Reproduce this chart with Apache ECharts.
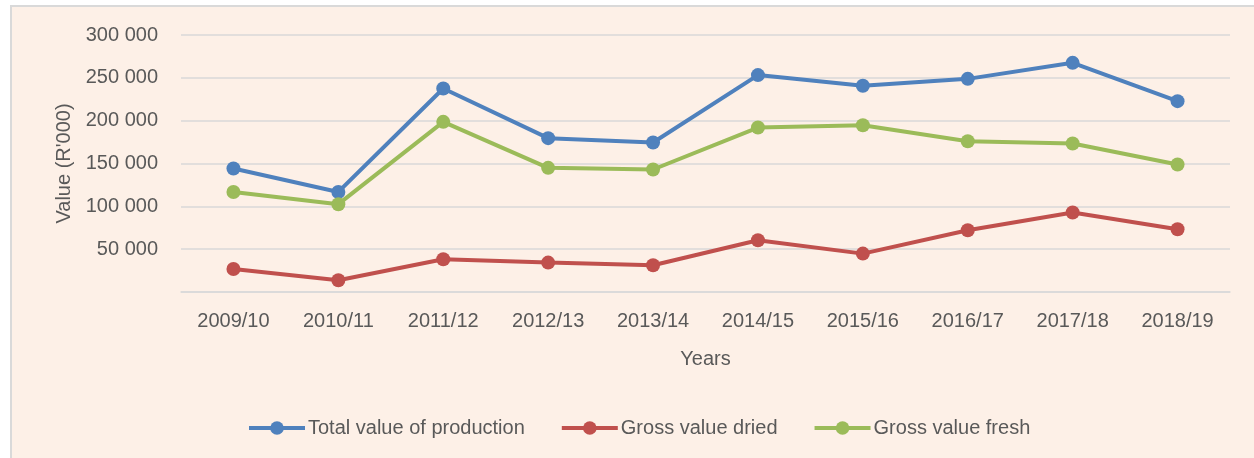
<!DOCTYPE html>
<html>
<head>
<meta charset="utf-8">
<script src="https://cdn.jsdelivr.net/npm/echarts@6/dist/echarts.min.js"></script>
<style>
  html, body { margin: 0; padding: 0; background: #fff; }
  #main { width: 1254px; height: 458px; }
</style>
</head>
<body>
<div id="main"></div>
<script>
var years = ['2009/10', '2010/11', '2011/12', '2012/13', '2013/14', '2014/15', '2015/16', '2016/17', '2017/18', '2018/19']
var totalValue = [144200, 116800, 237600, 179600, 174500, 253200, 240700, 248800, 267500, 222800]
var grossDried = [26900, 13700, 38200, 34300, 31200, 60400, 44800, 72100, 92800, 73200]
var grossFresh = [116800, 102500, 198600, 144900, 143000, 192000, 194700, 176000, 173400, 148800]
var yTicks = [0, 50000, 100000, 150000, 200000, 250000, 300000]

var font = '"Liberation Sans", Arial, sans-serif'
var textColor = '#595959'
var fs = 20

function fmt(v) {
  if (v === 0) return ''
  return String(v).replace(/\B(?=(\d{3})+(?!\d))/g, ' ')
}

function lineSeries(name, color, data) {
  return {
    name: name,
    type: 'line',
    data: data,
    symbol: 'circle',
    symbolSize: 14,
    lineStyle: { color: color, width: 4 },
    itemStyle: { color: color },
    z: 3
  }
}

var myChart = echarts.init(document.getElementById('main'))
var option = {
  animation: false,
  textStyle: { fontFamily: font },
  graphic: [
    {
      type: 'rect',
      z: -10,
      silent: true,
      shape: { x: 11, y: 6, width: 1300, height: 500 },
      style: { fill: '#FDF0E7', stroke: '#D9D9D9', lineWidth: 2 }
    }
  ],
  grid: { left: 181, right: 24, top: 35, bottom: 166 },
  legend: {
    left: 247,
    top: 418,
    padding: 0,
    itemWidth: 56,
    itemHeight: 17,
    itemGap: 35,
    lineStyle: { width: 4 },
    textStyle: { color: textColor, fontSize: fs, fontFamily: font, padding: [0, 0, 0, -2] },
    data: ['Total value of production', 'Gross value dried', 'Gross value fresh']
  },
  xAxis: {
    type: 'category',
    data: years,
    boundaryGap: true,
    name: 'Years',
    nameLocation: 'middle',
    nameGap: 57,
    nameTextStyle: { color: textColor, fontSize: fs, fontFamily: font },
    axisLine: { lineStyle: { color: '#D9D9D9', width: 1.5 } },
    axisTick: { show: false },
    axisLabel: { color: textColor, fontSize: fs, margin: 19, interval: 0, fontFamily: font }
  },
  yAxis: {
    type: 'value',
    min: yTicks[0],
    max: yTicks[yTicks.length - 1],
    interval: yTicks[1] - yTicks[0],
    name: "Value (R'000)",
    nameLocation: 'middle',
    nameGap: 97,
    nameTextStyle: { color: textColor, fontSize: fs, fontFamily: font },
    axisLine: { show: false },
    axisTick: { show: false },
    splitLine: { lineStyle: { color: '#D9D9D9', width: 1.5 } },
    axisLabel: { color: textColor, fontSize: fs, margin: 23, fontFamily: font, formatter: fmt }
  },
  series: [
    lineSeries('Total value of production', '#4F81BD', totalValue),
    lineSeries('Gross value dried', '#C0504D', grossDried),
    lineSeries('Gross value fresh', '#9BBB59', grossFresh)
  ]
}
myChart.setOption(option)
</script>
</body>
</html>
